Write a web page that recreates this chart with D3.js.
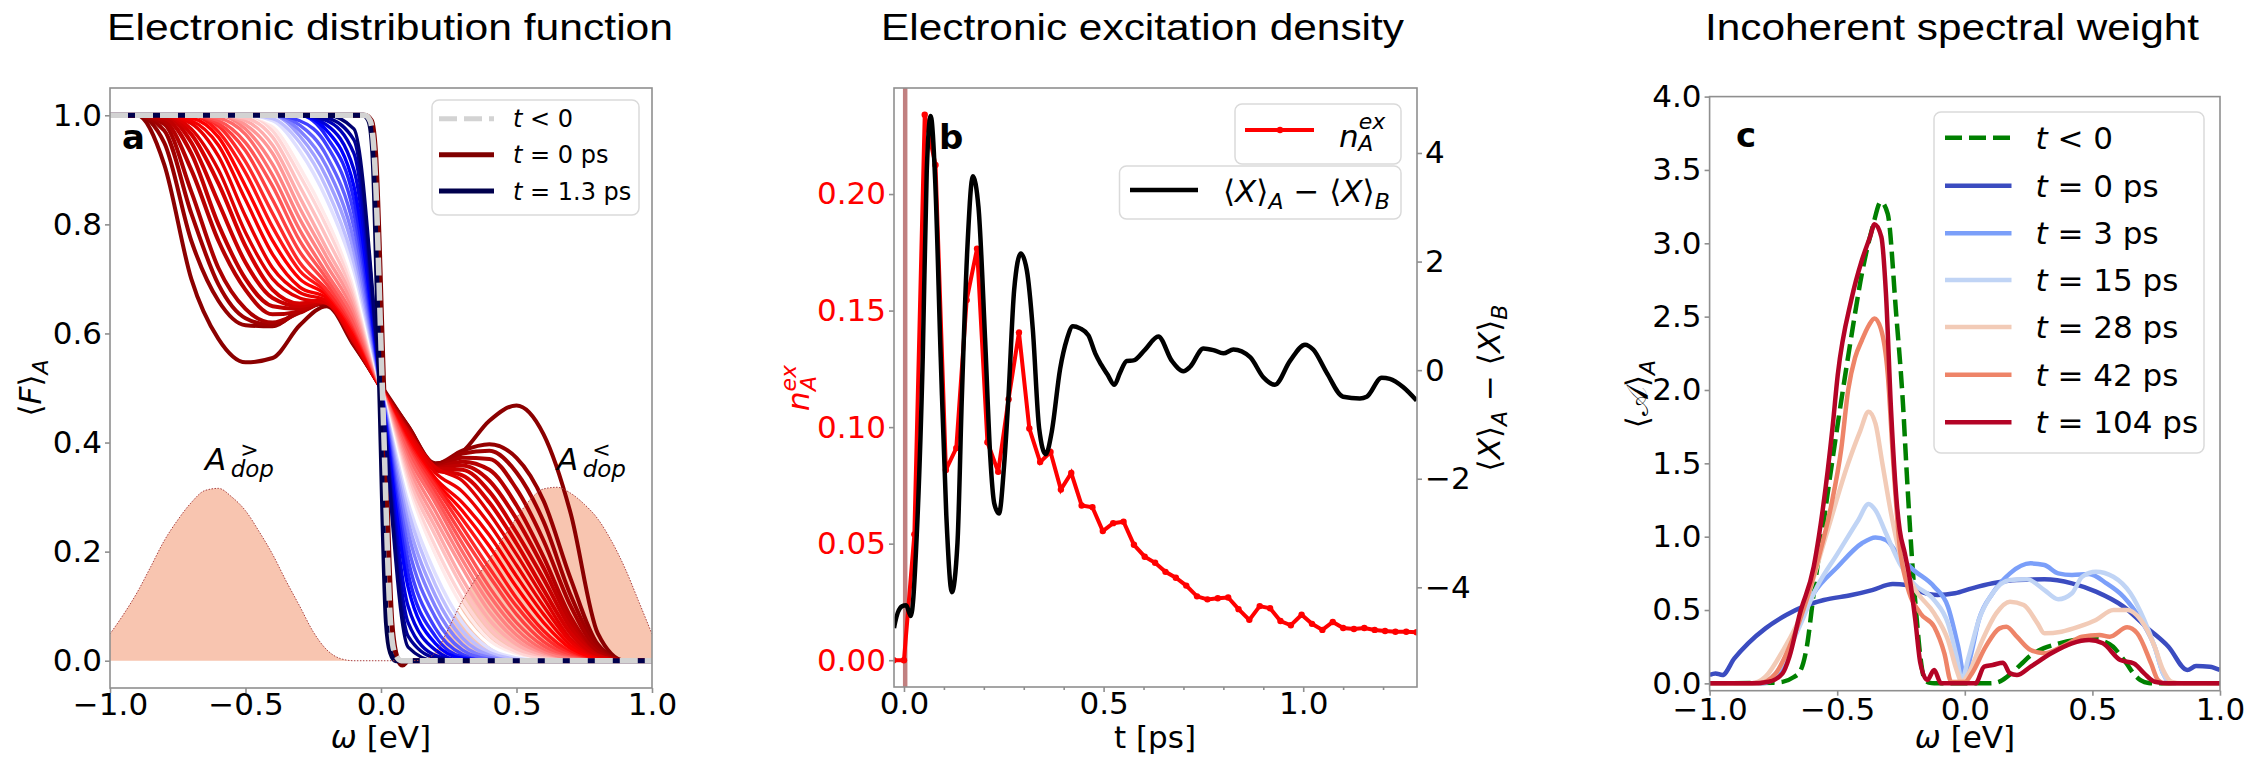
<!DOCTYPE html>
<html>
<head>
<meta charset="utf-8">
<script src="https://cdn.jsdelivr.net/npm/d3@7"></script>
<style>
  body { margin: 0; background: #fff; }
  text { font-family: "DejaVu Sans", sans-serif; }
</style>
</head>
<body>
<svg id="fig" width="2246" height="757"></svg>
<script>
// ---------- panel a: distribution function ----------
var omegaGrid = [-1, -0.9, -0.8, -0.7, -0.6, -0.5, -0.4, -0.3, -0.2, -0.1, 0, 0.1, 0.2, 0.3, 0.4, 0.5, 0.6, 0.7, 0.8, 0.9, 1];

// curves in time order after t = 0 (dark red -> red -> white -> blue)
var fanCurves = [
  [1, 1, 0.91, 0.70, 0.59, 0.547, 0.555, 0.615, 0.65, 0.578, 0.505, 0.43, 0.362, 0.383, 0.44, 0.468, 0.415, 0.27, 0.05, 0, 0],
  [1, 1, 0.95, 0.77, 0.66, 0.615, 0.613, 0.643, 0.655, 0.58, 0.502, 0.43, 0.36, 0.385, 0.397, 0.372, 0.293, 0.15, 0.03, 0, 0],
  [1, 1, 0.972, 0.82, 0.69, 0.628, 0.615, 0.64, 0.657, 0.582, 0.502, 0.428, 0.358, 0.38, 0.385, 0.345, 0.255, 0.12, 0.025, 0, 0],
  [1, 1, 0.984, 0.86, 0.72, 0.645, 0.62, 0.638, 0.658, 0.583, 0.5, 0.426, 0.357, 0.372, 0.37, 0.315, 0.22, 0.1, 0.02, 0, 0],
  [1, 1, 0.99, 0.9, 0.77, 0.68, 0.635, 0.64, 0.658, 0.585, 0.5, 0.424, 0.355, 0.365, 0.35, 0.285, 0.19, 0.08, 0.015, 0, 0],
  [1, 1, 0.995, 0.93, 0.80, 0.70, 0.65, 0.645, 0.659, 0.586, 0.5, 0.422, 0.353, 0.358, 0.33, 0.26, 0.17, 0.07, 0.01, 0, 0],
  [1, 1, 1, 0.95, 0.84, 0.73, 0.665, 0.65, 0.66, 0.588, 0.5, 0.42, 0.352, 0.35, 0.31, 0.235, 0.15, 0.06, 0.01, 0, 0],
  [1, 1, 1, 0.965, 0.875, 0.76, 0.68, 0.655, 0.662, 0.59, 0.5, 0.418, 0.35, 0.34, 0.29, 0.215, 0.13, 0.05, 0.008, 0, 0],
  [1, 1, 1, 0.975, 0.9, 0.785, 0.70, 0.665, 0.655, 0.585, 0.5, 0.42, 0.355, 0.33, 0.27, 0.195, 0.115, 0.04, 0.005, 0, 0],
  [1, 1, 1, 0.985, 0.925, 0.815, 0.72, 0.675, 0.66, 0.59, 0.5, 0.415, 0.345, 0.31, 0.25, 0.175, 0.1, 0.035, 0.004, 0, 0],
  [1, 1, 1, 0.99, 0.945, 0.845, 0.745, 0.685, 0.665, 0.595, 0.5, 0.41, 0.335, 0.29, 0.23, 0.155, 0.085, 0.028, 0.003, 0, 0],
  [1, 1, 1, 0.995, 0.96, 0.87, 0.77, 0.70, 0.67, 0.60, 0.5, 0.405, 0.33, 0.275, 0.21, 0.135, 0.07, 0.022, 0.002, 0, 0],
  [1, 1, 1, 1, 0.97, 0.895, 0.795, 0.715, 0.675, 0.605, 0.5, 0.40, 0.325, 0.26, 0.19, 0.115, 0.055, 0.016, 0, 0, 0],
  [1, 1, 1, 1, 0.98, 0.915, 0.82, 0.73, 0.68, 0.61, 0.5, 0.395, 0.32, 0.245, 0.17, 0.1, 0.045, 0.012, 0, 0, 0],
  [1, 1, 1, 1, 0.985, 0.935, 0.845, 0.75, 0.69, 0.615, 0.5, 0.39, 0.31, 0.23, 0.155, 0.085, 0.035, 0.009, 0, 0, 0],
  [1, 1, 1, 1, 0.99, 0.95, 0.87, 0.77, 0.70, 0.62, 0.5, 0.385, 0.30, 0.215, 0.135, 0.07, 0.027, 0.006, 0, 0, 0],
  [1, 1, 1, 1, 0.995, 0.965, 0.89, 0.79, 0.71, 0.63, 0.5, 0.375, 0.29, 0.2, 0.12, 0.058, 0.02, 0.004, 0, 0, 0],
  [1, 1, 1, 1, 1, 0.975, 0.91, 0.81, 0.725, 0.64, 0.5, 0.365, 0.275, 0.185, 0.105, 0.047, 0.015, 0.003, 0, 0, 0],
  [1, 1, 1, 1, 1, 0.983, 0.93, 0.83, 0.74, 0.65, 0.5, 0.355, 0.26, 0.17, 0.09, 0.038, 0.011, 0, 0, 0, 0],
  [1, 1, 1, 1, 1, 0.99, 0.945, 0.85, 0.755, 0.66, 0.5, 0.345, 0.245, 0.15, 0.075, 0.03, 0.008, 0, 0, 0, 0],
  [1, 1, 1, 1, 1, 0.995, 0.96, 0.87, 0.775, 0.67, 0.5, 0.335, 0.23, 0.135, 0.06, 0.022, 0.005, 0, 0, 0, 0],
  [1, 1, 1, 1, 1, 1, 0.972, 0.89, 0.795, 0.68, 0.5, 0.325, 0.21, 0.115, 0.048, 0.015, 0.003, 0, 0, 0, 0],
  [1, 1, 1, 1, 1, 1, 0.98, 0.905, 0.81, 0.69, 0.5, 0.315, 0.195, 0.1, 0.038, 0.01, 0, 0, 0, 0, 0],
  [1, 1, 1, 1, 1, 1, 0.986, 0.92, 0.825, 0.70, 0.5, 0.305, 0.18, 0.085, 0.03, 0.007, 0, 0, 0, 0, 0],
  [1, 1, 1, 1, 1, 1, 0.99, 0.935, 0.845, 0.715, 0.5, 0.29, 0.16, 0.07, 0.022, 0.005, 0, 0, 0, 0, 0],
  [1, 1, 1, 1, 1, 1, 0.994, 0.95, 0.865, 0.73, 0.5, 0.275, 0.14, 0.055, 0.015, 0.003, 0, 0, 0, 0, 0],
  [1, 1, 1, 1, 1, 1, 1, 0.962, 0.885, 0.75, 0.5, 0.255, 0.12, 0.042, 0.01, 0, 0, 0, 0, 0, 0],
  [1, 1, 1, 1, 1, 1, 1, 0.972, 0.905, 0.77, 0.5, 0.235, 0.10, 0.03, 0.006, 0, 0, 0, 0, 0, 0],
  [1, 1, 1, 1, 1, 1, 1, 0.982, 0.925, 0.795, 0.5, 0.21, 0.08, 0.02, 0.003, 0, 0, 0, 0, 0, 0],
  [1, 1, 1, 1, 1, 1, 1, 0.99, 0.945, 0.82, 0.5, 0.185, 0.06, 0.012, 0, 0, 0, 0, 0, 0, 0],
  [1, 1, 1, 1, 1, 1, 1, 1, 0.96, 0.845, 0.5, 0.16, 0.045, 0.007, 0, 0, 0, 0, 0, 0, 0],
  [1, 1, 1, 1, 1, 1, 1, 1, 0.972, 0.87, 0.5, 0.135, 0.032, 0.004, 0, 0, 0, 0, 0, 0, 0],
  [1, 1, 1, 1, 1, 1, 1, 1, 0.982, 0.90, 0.5, 0.10, 0.02, 0, 0, 0, 0, 0, 0, 0, 0],
  [1, 1, 1, 1, 1, 1, 1, 1, 0.99, 0.93, 0.5, 0.07, 0.01, 0, 0, 0, 0, 0, 0, 0, 0],
  [1, 1, 1, 1, 1, 1, 1, 1, 0.995, 0.955, 0.5, 0.045, 0.005, 0, 0, 0, 0, 0, 0, 0, 0],
  [1, 1, 1, 1, 1, 1, 1, 1, 1, 0.975, 0.5, 0.025, 0, 0, 0, 0, 0, 0, 0, 0, 0]
];

var t0Omega = [-1, -0.06, -0.035, -0.02, 0.01, 0.04, 0.06, 0.08, 0.1, 1];
var t0F = [1, 1, 0.99, 0.93, 0.5, 0.07, 0.005, -0.008, 0, 0];
var finalOmega = [-1, -0.065, -0.045, -0.03, -0.005, 0.02, 0.035, 0.055, 1];
var finalF = [1, 1, 0.99, 0.93, 0.5, 0.07, 0.015, 0, 0];
var eqOmega = [-1, -0.06, -0.04, -0.025, 0.005, 0.035, 0.05, 0.075, 1];
var eqF = [1, 1, 0.99, 0.93, 0.5, 0.07, 0.015, 0, 0];

var dopOmega = [-1, -0.95, -0.9, -0.85, -0.8, -0.75, -0.7, -0.65, -0.6, -0.55, -0.5, -0.45, -0.4, -0.35, -0.3, -0.25, -0.2, -0.15, -0.1, -0.05,
  0, 0.05, 0.1, 0.15, 0.2, 0.25, 0.3, 0.35, 0.4, 0.45, 0.5, 0.55, 0.6, 0.65, 0.7, 0.75, 0.8, 0.85, 0.9, 0.95, 1];
var dopValue = [0.049, 0.085, 0.125, 0.172, 0.22, 0.258, 0.29, 0.312, 0.316, 0.3, 0.275, 0.237, 0.195, 0.146, 0.1, 0.053, 0.02, 0.004, 0, 0,
  0, 0, 0, 0.001, 0.015, 0.06, 0.11, 0.15, 0.186, 0.225, 0.262, 0.295, 0.315, 0.318, 0.307, 0.287, 0.26, 0.22, 0.17, 0.11, 0.049];

// ---------- panel b: excitation density ----------
var nTime = [-0.026, 0, 0.026, 0.052, 0.079, 0.105, 0.131, 0.157, 0.183, 0.209, 0.236, 0.262, 0.288, 0.314, 0.341, 0.367, 0.393,
  0.419, 0.445, 0.472, 0.498, 0.524, 0.550, 0.576, 0.603, 0.629, 0.655, 0.681, 0.707, 0.734, 0.760, 0.786, 0.812, 0.838, 0.865,
  0.891, 0.917, 0.943, 0.969, 0.996, 1.022, 1.048, 1.074, 1.100, 1.127, 1.153, 1.179, 1.205, 1.231, 1.258, 1.284];
var nExc = [0, 0, 0.054, 0.234, 0.2125, 0.0816, 0.091, 0.1545, 0.1766, 0.0935, 0.0808, 0.112, 0.1406, 0.0994, 0.085, 0.0893, 0.0732,
  0.0803, 0.0664, 0.0656, 0.0554, 0.0588, 0.0594, 0.0495, 0.0444, 0.0418, 0.0379, 0.0354, 0.032, 0.0274, 0.0261, 0.0266, 0.0269,
  0.0219, 0.0173, 0.0232, 0.0223, 0.0168, 0.015, 0.0195, 0.0156, 0.013, 0.0164, 0.0138, 0.0134, 0.0138, 0.013, 0.0125, 0.0122,
  0.0122, 0.012];

var xTime = [-0.025, -0.022, -0.005, 0.0055, 0.017, 0.032, 0.047, 0.057, 0.067, 0.078, 0.092, 0.106, 0.12, 0.134, 0.145, 0.159,
  0.1725, 0.1866, 0.203, 0.216, 0.226, 0.238, 0.251, 0.2617, 0.276, 0.2926, 0.3077, 0.3227, 0.3385, 0.355, 0.37, 0.391, 0.408,
  0.423, 0.441, 0.462, 0.479, 0.494, 0.5105, 0.527, 0.541, 0.558, 0.575, 0.604, 0.637, 0.671, 0.7, 0.7166, 0.75, 0.775, 0.8,
  0.825, 0.867, 0.9, 0.929, 0.967, 1.0045, 1.025, 1.059, 1.1, 1.142, 1.159, 1.1965, 1.217, 1.25, 1.284];
var xDiff = [-4.75, -4.64, -4.35, -4.33, -4.53, -3.04, 0.24, 3.66, 4.68, 3.52, 0.24, -2.67, -4.09, -3.18, -0.49, 2.28,
  3.57, 3.0, 0.6, -1.58, -2.45, -2.64, -1.73, -0.49, 1.48, 2.15, 1.84, 0.75, -1.07, -1.55, -1.14, 0.02, 0.57,
  0.81, 0.77, 0.64, 0.31, 0.1, -0.09, -0.27, -0.05, 0.17, 0.18, 0.38, 0.62, 0.17, -0.02, 0.06, 0.4, 0.37, 0.31,
  0.38, 0.24, -0.13, -0.27, 0.17, 0.47, 0.38, -0.05, -0.49, -0.52, -0.49, -0.14, -0.16, -0.31, -0.56];

// ---------- panel c: spectral weight ----------
var specLabels = ["t = 0 ps", "t = 3 ps", "t = 15 ps", "t = 28 ps", "t = 42 ps", "t = 104 ps"];
var specEq = [[-1, 0], [-0.75, 0.005], [-0.714, 0.01], [-0.673, 0.04], [-0.646, 0.08], [-0.619, 0.25], [-0.592, 0.614], [-0.552, 1.114],
  [-0.511, 1.614], [-0.475, 2.03], [-0.445, 2.36], [-0.403, 2.795], [-0.36, 3.12], [-0.329, 3.283], [-0.302, 3.2], [-0.269, 2.52],
  [-0.242, 1.897], [-0.228, 1.45], [-0.201, 0.705], [-0.188, 0.432], [-0.174, 0.18], [-0.16, 0.04], [-0.14, 0.005], [-0.12, 0],
  [0.1, 0], [0.14, 0.015], [0.177, 0.06], [0.22, 0.13], [0.258, 0.19], [0.31, 0.24], [0.366, 0.27], [0.43, 0.295], [0.487, 0.307],
  [0.54, 0.29], [0.581, 0.25], [0.61, 0.19], [0.636, 0.13], [0.66, 0.07], [0.69, 0.02], [0.72, 0.003], [0.76, 0], [1, 0]];
var spec0 = [[-1, 0.057], [-0.977, 0.068], [-0.95, 0.057], [-0.903, 0.17], [-0.849, 0.273], [-0.781, 0.375], [-0.70, 0.466],
  [-0.633, 0.523], [-0.552, 0.568], [-0.444, 0.602], [-0.363, 0.636], [-0.282, 0.677], [-0.228, 0.67], [-0.174, 0.625],
  [-0.107, 0.602], [-0.039, 0.614], [0.028, 0.648], [0.109, 0.682], [0.204, 0.705], [0.312, 0.709], [0.42, 0.682], [0.514, 0.625],
  [0.622, 0.523], [0.717, 0.375], [0.798, 0.25], [0.872, 0.091], [0.906, 0.118], [0.96, 0.114], [1, 0.091]];
var spec3 = [[-1, 0], [-0.795, 0], [-0.727, 0.068], [-0.646, 0.432], [-0.592, 0.614], [-0.498, 0.795], [-0.403, 0.955], [-0.35, 0.995],
  [-0.309, 0.977], [-0.255, 0.864], [-0.201, 0.773], [-0.12, 0.659], [-0.066, 0.523], [-0.026, 0.25], [-0.001, 0.045], [0.022, 0.18],
  [0.055, 0.432], [0.109, 0.614], [0.177, 0.75], [0.258, 0.818], [0.312, 0.807], [0.366, 0.75], [0.42, 0.739], [0.487, 0.745],
  [0.555, 0.682], [0.622, 0.591], [0.69, 0.432], [0.744, 0.25], [0.777, 0.068], [0.811, 0], [1, 0]];
var spec15 = [[-1, 0], [-0.808, 0], [-0.741, 0.068], [-0.66, 0.34], [-0.579, 0.659], [-0.498, 0.886], [-0.417, 1.114], [-0.377, 1.223],
  [-0.35, 1.18], [-0.309, 1.023], [-0.255, 0.818], [-0.201, 0.682], [-0.12, 0.568], [-0.066, 0.409], [-0.032, 0.18], [-0.012, 0.023],
  [0.015, 0.18], [0.055, 0.432], [0.109, 0.614], [0.177, 0.705], [0.244, 0.709], [0.312, 0.636], [0.366, 0.573], [0.42, 0.614],
  [0.46, 0.727], [0.514, 0.761], [0.582, 0.727], [0.649, 0.614], [0.703, 0.432], [0.744, 0.25], [0.777, 0.068], [0.798, 0.01],
  [0.83, 0], [1, 0]];
var spec28 = [[-1, 0], [-0.835, 0], [-0.781, 0.045], [-0.714, 0.22], [-0.633, 0.5], [-0.545, 1.0], [-0.457, 1.5], [-0.41, 1.72],
  [-0.377, 1.852], [-0.35, 1.77], [-0.323, 1.5], [-0.289, 1.16], [-0.255, 0.886], [-0.201, 0.659], [-0.12, 0.477], [-0.066, 0.295],
  [-0.032, 0.09], [-0.012, 0.01], [0.015, 0.068], [0.069, 0.295], [0.123, 0.477], [0.177, 0.557], [0.231, 0.534], [0.285, 0.409],
  [0.312, 0.341], [0.379, 0.352], [0.447, 0.386], [0.514, 0.432], [0.582, 0.5], [0.636, 0.5], [0.69, 0.432], [0.744, 0.25],
  [0.777, 0.091], [0.811, 0.01], [0.85, 0], [1, 0]];
var spec42 = [[-1, 0], [-0.808, 0], [-0.741, 0.068], [-0.687, 0.25], [-0.633, 0.5], [-0.579, 0.818], [-0.525, 1.2], [-0.484, 1.6],
  [-0.457, 2.0], [-0.43, 2.22], [-0.403, 2.34], [-0.376, 2.44], [-0.354, 2.488], [-0.329, 2.418], [-0.302, 2.11], [-0.28, 1.5],
  [-0.255, 0.932], [-0.228, 0.682], [-0.174, 0.477], [-0.12, 0.386], [-0.08, 0.205], [-0.053, 0.01], [0.001, 0.01], [0.028, 0.068],
  [0.082, 0.25], [0.136, 0.375], [0.163, 0.386], [0.204, 0.318], [0.258, 0.227], [0.312, 0.205], [0.393, 0.261], [0.46, 0.318],
  [0.528, 0.33], [0.568, 0.318], [0.636, 0.382], [0.676, 0.341], [0.73, 0.136], [0.757, 0.023], [0.784, 0], [1, 0]];
var spec104 = [[-1, 0], [-0.835, 0], [-0.768, 0.011], [-0.714, 0.068], [-0.687, 0.182], [-0.646, 0.477], [-0.592, 0.795],
  [-0.572, 1.0], [-0.518, 1.75], [-0.498, 2.1], [-0.444, 2.62], [-0.403, 2.886], [-0.37, 3.05], [-0.354, 3.13], [-0.327, 3.044],
  [-0.309, 2.658], [-0.289, 1.863], [-0.265, 1.2], [-0.255, 1.045], [-0.235, 0.886], [-0.215, 0.705], [-0.194, 0.432],
  [-0.174, 0.136], [-0.147, 0.023], [-0.12, 0.091], [-0.093, 0], [0.042, 0], [0.076, 0.114], [0.109, 0.125], [0.15, 0.141],
  [0.177, 0.068], [0.204, 0.057], [0.258, 0.114], [0.339, 0.205], [0.42, 0.273], [0.487, 0.295], [0.541, 0.273], [0.609, 0.159],
  [0.663, 0.136], [0.703, 0.068], [0.744, 0.011], [0.8, 0], [1, 0]];

var svg = d3.select("#fig");
svg.append("rect").attr("width", 2246).attr("height", 757).attr("fill", "#fff");
var frameColor = "#8f8f8f";
var defs = svg.append("defs");

// Titles
var titleText = ["Electronic distribution function", "Electronic excitation density", "Incoherent spectral weight"];
var titleX = [107, 881, 1705];
var titleW = [566, 523, 494];
titleText.forEach(function(t, i) {
  svg.append("text").attr("x", titleX[i]).attr("y", 40).text(t)
    .style("font-family", "'Liberation Sans', Arial, sans-serif").attr("font-size", 37)
    .attr("textLength", titleW[i]).attr("lengthAdjust", "spacingAndGlyphs");
});

function clip(id, x0, y0, x1, y1) {
  defs.append("clipPath").attr("id", id).append("rect")
    .attr("x", x0).attr("y", y0).attr("width", x1 - x0).attr("height", y1 - y0);
}

function styleAxis(g, color) {
  g.select(".domain").remove();
  g.attr("font-size", 31).attr("font-family", "DejaVu Sans");
  g.selectAll(".tick line").attr("stroke", frameColor).attr("stroke-width", 1.6);
  g.selectAll(".tick text").attr("fill", color || "#000");
}

function frame(x0, y0, x1, y1) {
  svg.append("rect").attr("x", x0).attr("y", y0).attr("width", x1 - x0).attr("height", y1 - y0)
    .attr("fill", "none").attr("stroke", frameColor).attr("stroke-width", 1.6);
}

function legendBox(x0, y0, x1, y1) {
  svg.append("rect").attr("x", x0).attr("y", y0).attr("width", x1 - x0).attr("height", y1 - y0)
    .attr("rx", 7).attr("fill", "#fff").attr("fill-opacity", 0.85).attr("stroke", "#dadada").attr("stroke-width", 1.5);
}

// t-label like "t = 0 ps" with italic t
function timeLabel(x, y, size, label) {
  var txt = svg.append("text").attr("x", x).attr("y", y).attr("font-size", size);
  txt.append("tspan").attr("font-style", "italic").text("t");
  txt.append("tspan").text(label.slice(1));
}

// ================= panel a =================
var xA = d3.scaleLinear().domain([-1, 1]).range([110, 652]);
var yA = d3.scaleLinear().domain([-0.05, 1.05]).range([688, 88]);
clip("clipA", 110, 88, 652, 688);
var plotA = svg.append("g").attr("clip-path", "url(#clipA)");

var dopArea = d3.area().x((d, i) => xA(dopOmega[i])).y0(yA(0)).y1(d => yA(d)).curve(d3.curveMonotoneX);
var dopLine = d3.line().x((d, i) => xA(dopOmega[i])).y(d => yA(d)).curve(d3.curveMonotoneX);
plotA.append("path").datum(dopValue).attr("d", dopArea).attr("fill", "#f8c5b0");

var fanLine = d3.line().x((d, i) => xA(omegaGrid[i])).y(d => yA(d)).curve(d3.curveMonotoneX);
var stepLine = d3.line().x(d => xA(d[0])).y(d => yA(d[1])).curve(d3.curveMonotoneX);
var fanColor = d3.scaleLinear().domain([0, 12, 24, 32, 37])
  .range(["#800000", "#ff0000", "#ffffff", "#0000ff", "#00004d"]);

plotA.append("path").datum(d3.zip(t0Omega, t0F)).attr("d", stepLine)
  .attr("fill", "none").attr("stroke", fanColor(0)).attr("stroke-width", 5);
fanCurves.forEach(function(c, i) {
  plotA.append("path").datum(c).attr("d", fanLine)
    .attr("fill", "none").attr("stroke", fanColor(i + 1)).attr("stroke-width", i < 8 ? 4 : 3.4);
});
plotA.append("path").datum(d3.zip(finalOmega, finalF)).attr("d", stepLine)
  .attr("fill", "none").attr("stroke", fanColor(37)).attr("stroke-width", 5);
plotA.append("path").datum(dopValue).attr("d", dopLine)
  .attr("fill", "none").attr("stroke", "#a84040").attr("stroke-width", 1).attr("stroke-dasharray", "1.5,1.5");
plotA.append("path").datum(d3.zip(eqOmega, eqF)).attr("d", stepLine)
  .attr("fill", "none").attr("stroke", "#d3d3d3").attr("stroke-width", 5.5).attr("stroke-dasharray", "18,7");

var axA = svg.append("g").attr("transform", "translate(110,0)")
  .call(d3.axisLeft(yA).tickValues([0, 0.2, 0.4, 0.6, 0.8, 1.0]).tickFormat(d3.format(".1f")).tickSize(5).tickPadding(3));
styleAxis(axA);
var axAx = svg.append("g").attr("transform", "translate(0,688)")
  .call(d3.axisBottom(xA).tickValues([-1, -0.5, 0, 0.5, 1]).tickFormat(d3.format(".1f")).tickSize(5).tickPadding(0));
styleAxis(axAx);
frame(110, 88, 652, 688);

svg.append("text").attr("x", 122).attr("y", 149).attr("font-size", 34).attr("font-weight", "bold").text("a");

// A_dop labels (one text each, sup and sub stacked)
function dopLabel(x, y, mark) {
  var t = svg.append("text").attr("x", x).attr("y", y).attr("font-size", 31);
  t.append("tspan").attr("font-style", "italic").text("A");
  t.append("tspan").attr("font-size", 22).attr("dx", 14).attr("dy", -13).text(mark);
  t.append("tspan").attr("font-size", 23).attr("font-style", "italic").attr("dx", -28).attr("dy", 20).text("dop");
}
dopLabel(205, 470, ">");
dopLabel(557, 470, "<");

// axis labels a
var xlA = svg.append("text").attr("x", 381).attr("y", 748).attr("text-anchor", "middle").attr("font-size", 31);
xlA.append("tspan").attr("font-style", "italic").text("\u03c9");
xlA.append("tspan").text(" [eV]");
var ylA = svg.append("text").attr("transform", "translate(41,388) rotate(-90)").attr("text-anchor", "middle").attr("font-size", 31);
ylA.append("tspan").text("\u27e8");
ylA.append("tspan").attr("font-style", "italic").text("F");
ylA.append("tspan").text("\u27e9");
ylA.append("tspan").attr("font-style", "italic").attr("font-size", 22).attr("dy", 7).text("A");

// legend a
legendBox(432, 100, 639, 215);
var legA = [[118.7, "t < 0"], [154.7, "t = 0 ps"], [191.1, "t = 1.3 ps"]];
svg.append("line").attr("x1", 439).attr("x2", 494).attr("y1", 118.7).attr("y2", 118.7)
  .attr("stroke", "#d3d3d3").attr("stroke-width", 5).attr("stroke-dasharray", "18,7");
svg.append("line").attr("x1", 439).attr("x2", 494).attr("y1", 154.7).attr("y2", 154.7)
  .attr("stroke", fanColor(0)).attr("stroke-width", 5);
svg.append("line").attr("x1", 439).attr("x2", 494).attr("y1", 191.1).attr("y2", 191.1)
  .attr("stroke", fanColor(37)).attr("stroke-width", 5);
legA.forEach(function(e) { timeLabel(513, e[0] + 8.5, 24, e[1]); });

// ================= panel b =================
var xB = d3.scaleLinear().domain([-0.025, 1.285]).range([894, 1417]);
var yBL = d3.scaleLinear().domain([-0.0115, 0.2455]).range([687, 88]);
var yBR = d3.scaleLinear().domain([-5.836, 5.197]).range([687, 88]);
clip("clipB", 894, 88, 1417, 687);
var plotB = svg.append("g").attr("clip-path", "url(#clipB)");

plotB.append("line").attr("x1", xB(0.003)).attr("x2", xB(0.003)).attr("y1", 88).attr("y2", 687)
  .attr("stroke", "#b66a6a").attr("stroke-opacity", 0.85).attr("stroke-width", 4.5);

var nLine = d3.line().x((d, i) => xB(nTime[i])).y(d => yBL(d));
plotB.append("path").datum(nExc).attr("d", nLine).attr("fill", "none").attr("stroke", "#ff0000").attr("stroke-width", 4);
plotB.selectAll("circle.n").data(nExc).enter().append("circle").attr("class", "n")
  .attr("cx", (d, i) => xB(nTime[i])).attr("cy", d => yBL(d)).attr("r", 3.2).attr("fill", "#ff0000");

var xdLine = d3.line().x((d, i) => xB(xTime[i])).y(d => yBR(d)).curve(d3.curveMonotoneX);
plotB.append("path").datum(xDiff).attr("d", xdLine).attr("fill", "none").attr("stroke", "#000").attr("stroke-width", 4.5)
  .attr("stroke-linejoin", "round");

var axBL = svg.append("g").attr("transform", "translate(894,0)")
  .call(d3.axisLeft(yBL).tickValues([0, 0.05, 0.1, 0.15, 0.2]).tickFormat(d3.format(".2f")).tickSize(5).tickPadding(3));
styleAxis(axBL, "#ff0000");
var axBR = svg.append("g").attr("transform", "translate(1417,0)")
  .call(d3.axisRight(yBR).tickValues([-4, -2, 0, 2, 4]).tickFormat(d3.format("d")).tickSize(5).tickPadding(3));
styleAxis(axBR);
var axBx = svg.append("g").attr("transform", "translate(0,687)")
  .call(d3.axisBottom(xB).tickValues([0, 0.5, 1.0]).tickFormat(d3.format(".1f")).tickSize(5).tickPadding(0));
styleAxis(axBx);
var axBm = svg.append("g").attr("transform", "translate(0,687)")
  .call(d3.axisBottom(xB).tickValues([0.1, 0.2, 0.3, 0.4, 0.6, 0.7, 0.8, 0.9, 1.1, 1.2]).tickFormat("").tickSize(3));
styleAxis(axBm);
frame(894, 88, 1417, 687);

svg.append("text").attr("x", 939).attr("y", 149).attr("font-size", 34).attr("font-weight", "bold").text("b");

svg.append("text").attr("x", 1155).attr("y", 748).attr("text-anchor", "middle").attr("font-size", 31).text("t [ps]");
var ylB = svg.append("text").attr("transform", "translate(809,388) rotate(-90)").attr("text-anchor", "middle")
  .attr("font-size", 31).attr("fill", "#ff0000");
ylB.append("tspan").attr("font-style", "italic").text("n");
ylB.append("tspan").attr("font-style", "italic").attr("font-size", 22).attr("dy", -13).text("ex");
ylB.append("tspan").attr("font-style", "italic").attr("font-size", 22).attr("dx", -26).attr("dy", 20).text("A");

function xDiffLabel(sel) {
  sel.append("tspan").text("\u27e8");
  sel.append("tspan").attr("font-style", "italic").text("X");
  sel.append("tspan").text("\u27e9");
  sel.append("tspan").attr("font-style", "italic").attr("font-size", 22).attr("dy", 7).text("A");
  sel.append("tspan").attr("dy", -7).text(" \u2212 \u27e8");
  sel.append("tspan").attr("font-style", "italic").text("X");
  sel.append("tspan").text("\u27e9");
  sel.append("tspan").attr("font-style", "italic").attr("font-size", 22).attr("dy", 7).text("B");
}
var yrB = svg.append("text").attr("transform", "translate(1500,388) rotate(-90)").attr("text-anchor", "middle").attr("font-size", 31);
xDiffLabel(yrB);

// legends b
legendBox(1235, 104, 1401, 164);
svg.append("line").attr("x1", 1245).attr("x2", 1314).attr("y1", 130).attr("y2", 130).attr("stroke", "#ff0000").attr("stroke-width", 4);
svg.append("circle").attr("cx", 1280).attr("cy", 130).attr("r", 3.2).attr("fill", "#ff0000");
var legN = svg.append("text").attr("x", 1339).attr("y", 147).attr("font-size", 31).attr("font-style", "italic");
legN.append("tspan").text("n");
legN.append("tspan").attr("font-size", 22).attr("dy", -18).text("ex");
legN.append("tspan").attr("font-size", 22).attr("dx", -27).attr("dy", 22).text("A");

legendBox(1119.5, 166, 1401, 219);
svg.append("line").attr("x1", 1130).attr("x2", 1198).attr("y1", 190).attr("y2", 190).attr("stroke", "#000").attr("stroke-width", 4.5);
var legX = svg.append("text").attr("x", 1223).attr("y", 202).attr("font-size", 31);
xDiffLabel(legX);

// ================= panel c =================
var xC = d3.scaleLinear().domain([-1, 1]).range([1709.6, 2220]);
var yC = d3.scaleLinear().domain([-0.05, 4]).range([690.7, 96.6]);
clip("clipC", 1709.6, 96.6, 2220, 690.7);
var plotC = svg.append("g").attr("clip-path", "url(#clipC)");
var specLine = d3.line().x(d => xC(d[0])).y(d => yC(d[1])).curve(d3.curveMonotoneX);
var specColors = ["#3b4cc0", "#7b9ff9", "#c0d4f5", "#f2cbb7", "#ee8468", "#b40426"];
var specSeries = [spec0, spec3, spec15, spec28, spec42, spec104];

plotC.append("path").datum(specEq).attr("d", specLine).attr("fill", "none")
  .attr("stroke", "#008000").attr("stroke-width", 4.5).attr("stroke-dasharray", "17,7");
specSeries.forEach(function(s, i) {
  plotC.append("path").datum(s).attr("d", specLine).attr("fill", "none")
    .attr("stroke", specColors[i]).attr("stroke-width", 4.5).attr("stroke-linejoin", "round");
});

var axCy = svg.append("g").attr("transform", "translate(1709.6,0)")
  .call(d3.axisLeft(yC).tickValues(d3.range(0, 4.01, 0.5)).tickFormat(d3.format(".1f")).tickSize(5).tickPadding(3));
styleAxis(axCy);
var axCx = svg.append("g").attr("transform", "translate(0,690.7)")
  .call(d3.axisBottom(xC).tickValues([-1, -0.5, 0, 0.5, 1]).tickFormat(d3.format(".1f")).tickSize(5).tickPadding(2));
styleAxis(axCx);
frame(1709.6, 96.6, 2220, 690.7);

svg.append("text").attr("x", 1736).attr("y", 147).attr("font-size", 34).attr("font-weight", "bold").text("c");

var xlC = svg.append("text").attr("x", 1965).attr("y", 748).attr("text-anchor", "middle").attr("font-size", 31);
xlC.append("tspan").attr("font-style", "italic").text("\u03c9");
xlC.append("tspan").text(" [eV]");
var ylC = svg.append("text").attr("transform", "translate(1648,394) rotate(-90)").attr("text-anchor", "middle").attr("font-size", 31);
ylC.append("tspan").text("\u27e8");
ylC.append("tspan").text("\ud835\udc9c");
ylC.append("tspan").text("\u27e9");
ylC.append("tspan").attr("font-style", "italic").attr("font-size", 22).attr("dy", 7).text("A");

// legend c
legendBox(1934, 112, 2204, 453);
var legCy = [137.8, 185.8, 233.3, 280, 327.1, 374.7, 422.2];
svg.append("line").attr("x1", 1945).attr("x2", 2011.5).attr("y1", legCy[0]).attr("y2", legCy[0])
  .attr("stroke", "#008000").attr("stroke-width", 4.5).attr("stroke-dasharray", "17,7");
timeLabel(2035.4, legCy[0] + 11, 31, "t < 0");
specLabels.forEach(function(l, i) {
  svg.append("line").attr("x1", 1945).attr("x2", 2011.5).attr("y1", legCy[i + 1]).attr("y2", legCy[i + 1])
    .attr("stroke", specColors[i]).attr("stroke-width", 4.5);
  timeLabel(2035.4, legCy[i + 1] + 11, 31, l);
});
</script>
</body>
</html>
